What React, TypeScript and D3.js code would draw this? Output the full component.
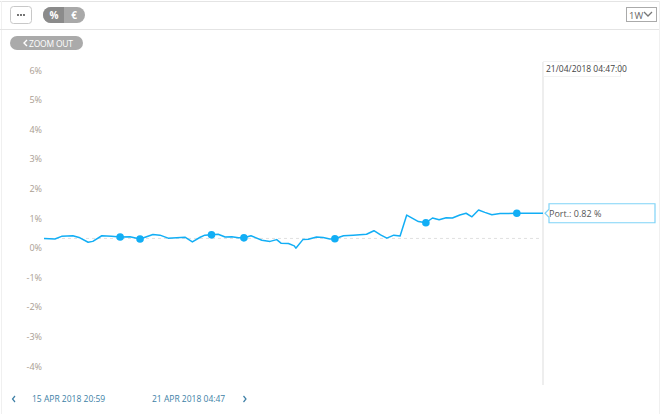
import React from "react";
import * as d3 from "d3";

const startTime = new Date(2018, 3, 15, 20, 59);
const endTime = new Date(2018, 3, 21, 4, 47);

// hours since start, and portfolio value in %
const hours = [0, 2.8, 4.5, 7.4, 9.2, 11.3, 12.5, 14.8, 17.3, 19.5, 22.0, 24.6, 27.9, 29.7, 31.8, 36.1, 38.0, 40.0, 41.2, 42.9, 44.6, 46.4, 48.1, 49.8, 51.2, 53.0, 55.8, 57.9, 59.6, 60.7, 62.6, 64.1, 64.5, 66.3, 67.7, 69.8, 71.5, 73.2, 74.5, 76.7, 79.2, 82.6, 84.5, 86.2, 87.8, 89.6, 91.2, 92.9, 95.9, 97.8, 99.5, 101.2, 103.0, 104.6, 106.5, 108.1, 109.6, 111.3, 112.9, 114.7, 116.8, 118.8, 121.1, 127.8];
const values = [0.31, 0.29, 0.38, 0.40, 0.33, 0.18, 0.21, 0.40, 0.38, 0.36, 0.37, 0.29, 0.44, 0.42, 0.32, 0.35, 0.19, 0.35, 0.42, 0.43, 0.45, 0.36, 0.37, 0.33, 0.33, 0.40, 0.25, 0.21, 0.27, 0.15, 0.14, 0.06, -0.02, 0.27, 0.28, 0.36, 0.34, 0.29, 0.30, 0.40, 0.42, 0.45, 0.57, 0.43, 0.32, 0.42, 0.39, 1.10, 0.88, 0.84, 1.00, 0.94, 1.01, 1.00, 1.10, 1.16, 1.04, 1.27, 1.19, 1.11, 1.15, 1.15, 1.16, 1.16];
// indices of points carrying a marker
const markerIdx = [9, 11, 19, 24, 38, 49, 62];

const yTicks = [6, 5, 4, 3, 2, 1, 0, -1, -2, -3, -4];
const rangeLabels = ["15 APR 2018 20:59", "21 APR 2018 04:47"];
const crosshairLabel = "21/04/2018 04:47:00";
const tooltipText = "Port.: 0.82 %";

const FONT = "'Open Sans', 'Noto Sans', sans-serif";
const BLUE = "#12aef5";

export default function App() {
  const W = 666, H = 414;
  const data = hours.map((h, i) => ({ t: new Date(startTime.getTime() + h * 3600e3), v: values[i] }));
  const x = d3.scaleTime().domain([startTime, endTime]).range([44, 543]);
  const y = d3.scaleLinear().domain([-4, 6]).range([366, 70]);
  const line = d3.line<{ t: Date; v: number }>().x(d => x(d.t)).y(d => y(d.v));
  const last = data[data.length - 1];
  const cx = x(endTime);
  const ty = y(last.v);
  const baseY = y(values[0]);

  return (
    <svg width={W} height={H} style={{ position: "fixed", left: 0, top: 0, display: "block" }} fontFamily={FONT}>
      <rect x={0} y={0} width={W} height={H} fill="#fff" />
      {/* frame */}
      <line x1={0} x2={660} y1={1.5} y2={1.5} stroke="#e4e4e4" />
      <line x1={1.5} x2={1.5} y1={1} y2={414} stroke="#f0f0f0" />
      <line x1={0} x2={660} y1={29.5} y2={29.5} stroke="#e4e4e4" />
      <line x1={659.5} x2={659.5} y1={1} y2={414} stroke="#f0f0f0" />

      {/* toolbar */}
      <rect x={10.5} y={6.5} width={21} height={17} rx={3} fill="#fff" stroke="#c8c8c8" />
      {[-3, 0, 3].map(d => (
        <circle key={d} cx={21 + d} cy={15} r={0.9} fill="#333" />
      ))}
      <rect x={43} y={7} width={42} height={16} rx={8} fill="#a9a9a9" />
      <path d="M51,7 H64 V23 H51 A8,8 0 0 1 51,7 Z" fill="#8b8b8b" />
      <text x={54} y={19} textAnchor="middle" fontSize={10} fontWeight="bold" fill="#fff">%</text>
      <text x={74} y={19} textAnchor="middle" fontSize={10} fontWeight="bold" fill="#fff">€</text>
      <rect x={626.5} y={7.5} width={30} height={14} fill="#fff" stroke="#aaa" />
      <text x={629} y={18.5} fontSize={9.5} fill="#666">1W</text>
      <path d="M644,12 L648,16 L652,12" fill="none" stroke="#777" strokeWidth={1.3} />

      <rect x={10} y={36} width={73} height={14} rx={7} fill="#aaaaaa" />
      <path d="M27,40 L24,43 L27,46" fill="none" stroke="#fff" strokeWidth={1.4} />
      <text x={29} y={46.5} fontSize={8.5} fill="#fff" letterSpacing={-0.2}>ZOOM OUT</text>

      {/* y axis labels */}
      {yTicks.map(t => (
        <text key={t} x={42} y={y(t)} textAnchor="end" dominantBaseline="central" fontSize={9} fill="#aa9d91">
          {t}%
        </text>
      ))}

      {/* baseline */}
      <line x1={44} x2={cx} y1={baseY} y2={baseY} stroke="#e0e0e0" strokeDasharray="3,3" />

      {/* crosshair */}
      <line x1={cx} x2={cx} y1={62} y2={385} stroke="#eeeeee" strokeWidth={2} />

      {/* series */}
      <path d={line(data) || ""} fill="none" stroke={BLUE} strokeWidth={1.5} strokeLinejoin="round" />
      {markerIdx.map(i => (
        <circle key={i} cx={x(data[i].t)} cy={y(data[i].v)} r={3.8} fill={BLUE} />
      ))}

      {/* crosshair label */}
      <rect x={cx + 0.5} y={61.5} width={77} height={15} fill="#fff" stroke="#f2f2f2" />
      <text x={cx + 3} y={72} fontSize={8.5} fill="#444">{crosshairLabel}</text>

      {/* tooltip */}
      <path
        d={`M${cx + 2},${ty} L${cx + 6},${ty - 4} V${ty - 9.5} H${655} V${ty + 9.5} H${cx + 6} V${ty + 4} Z`}
        fill="#fff" stroke="#7fd3f7" strokeWidth={1.2}
      />
      <text x={cx + 6} y={ty + 3.5} fontSize={9} fill="#555">{tooltipText}</text>

      {/* navigator range */}
      <path d="M15,396 L12.5,399 L15,402" fill="none" stroke="#3d7fa6" strokeWidth={1.2} />
      <text x={32} y={402} fontSize={8.5} fill="#3d7fa6">{rangeLabels[0]}</text>
      <text x={152} y={402} fontSize={8.5} fill="#3d7fa6">{rangeLabels[1]}</text>
      <path d="M243.5,396 L246,399 L243.5,402" fill="none" stroke="#3d7fa6" strokeWidth={1.2} />
    </svg>
  );
}
